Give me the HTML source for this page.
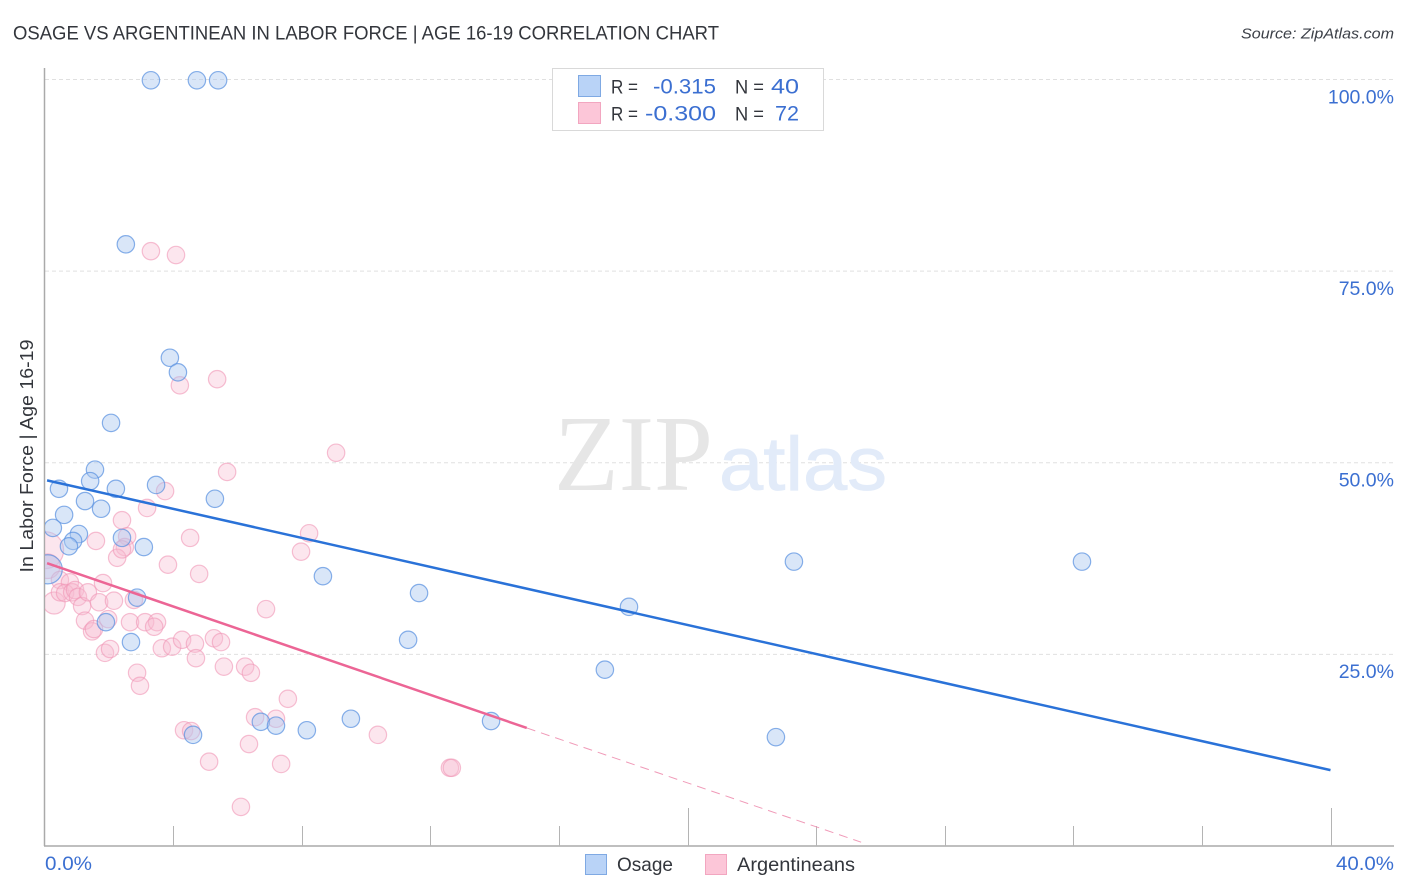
<!DOCTYPE html>
<html lang="en">
<head>
<meta charset="utf-8">
<title>Osage vs Argentinean In Labor Force | Age 16-19 Correlation Chart</title>
<style>
html,body{margin:0;padding:0;background:#fff;width:1406px;height:892px;overflow:hidden}
svg{display:block;font-family:"Liberation Sans",sans-serif}
</style>
</head>
<body>
<svg id="chart" xmlns="http://www.w3.org/2000/svg" width="1406" height="892" viewBox="0 0 1406 892">
<defs><clipPath id="plot-clip"><rect x="45" y="60" width="1350" height="786"/></clipPath></defs>
<text x="13" y="39.5" font-size="19.5" fill="#33363c" textLength="706" lengthAdjust="spacingAndGlyphs">OSAGE VS ARGENTINEAN IN LABOR FORCE | AGE 16-19 CORRELATION CHART</text>
<text x="1241" y="38.5" font-size="15" font-style="italic" fill="#3c4048" textLength="153" lengthAdjust="spacingAndGlyphs">Source: ZipAtlas.com</text>
<g id="grid"></g>
<g>
<text x="554" y="490" font-family="'Liberation Serif',serif" font-size="108" fill="#e6e6e6" textLength="159" lengthAdjust="spacingAndGlyphs">ZIP</text>
<text x="719" y="490" font-size="76" fill="#e2ebf9" stroke="#e2ebf9" stroke-width="0.8" textLength="168" lengthAdjust="spacingAndGlyphs">atlas</text>
</g>
<g id="axes"></g>
<g id="pink-points" clip-path="url(#plot-clip)"></g>
<g id="blue-points" clip-path="url(#plot-clip)"></g>
<g id="trends"></g>
<text transform="translate(33,456) rotate(-90)" font-size="18.5" fill="#33363c" text-anchor="middle" textLength="233" lengthAdjust="spacingAndGlyphs">In Labor Force | Age 16-19</text>
<g id="y-labels"></g>
<text x="45" y="870" font-size="19.5" fill="#3b6fd1" textLength="47" lengthAdjust="spacingAndGlyphs">0.0%</text>
<text x="1336" y="870" font-size="19.5" fill="#3b6fd1" textLength="58" lengthAdjust="spacingAndGlyphs">40.0%</text>
<g>
<rect x="552.5" y="68.5" width="271" height="62" fill="#fff" stroke="#d9d9d9" stroke-width="1"/>
<rect x="578.5" y="75.5" width="22" height="21" fill="#b9d3f7" stroke="#7fa9e3"/>
<rect x="578.5" y="102.5" width="22" height="21" fill="#fcc6d8" stroke="#f2a6c0"/>
<text x="611" y="93.5" font-size="19" fill="#33363c" textLength="27" lengthAdjust="spacingAndGlyphs">R =</text>
<text x="653" y="93.5" font-size="21" fill="#3b6fd1" textLength="63" lengthAdjust="spacingAndGlyphs">-0.315</text>
<text x="735" y="93.5" font-size="19" fill="#33363c" textLength="29" lengthAdjust="spacingAndGlyphs">N =</text>
<text x="771" y="93.5" font-size="21" fill="#3b6fd1" textLength="28" lengthAdjust="spacingAndGlyphs">40</text>
<text x="611" y="120.5" font-size="19" fill="#33363c" textLength="27" lengthAdjust="spacingAndGlyphs">R =</text>
<text x="645" y="120.5" font-size="21" fill="#3b6fd1" textLength="71" lengthAdjust="spacingAndGlyphs">-0.300</text>
<text x="735" y="120.5" font-size="19" fill="#33363c" textLength="29" lengthAdjust="spacingAndGlyphs">N =</text>
<text x="775" y="120.5" font-size="21" fill="#3b6fd1" textLength="24" lengthAdjust="spacingAndGlyphs">72</text>
</g>
<g>
<rect x="585.5" y="854.5" width="21" height="20" fill="#b9d3f7" stroke="#7fa9e3"/>
<text x="617" y="871" font-size="19.5" fill="#33363c" textLength="56" lengthAdjust="spacingAndGlyphs">Osage</text>
<rect x="705.5" y="854.5" width="21" height="20" fill="#fcc6d8" stroke="#f2a6c0"/>
<text x="737" y="871" font-size="19.5" fill="#33363c" textLength="118" lengthAdjust="spacingAndGlyphs">Argentineans</text>
</g>
</svg>
<script>
var yTicks = [100, 75, 50, 25];
var yTickLabels = ["100.0%", "75.0%", "50.0%", "25.0%"];
var xTicks = [0, 4, 8, 12, 16, 20, 24, 28, 32, 36, 40];
var xMajorTicks = [0, 20, 40];

var osageX = [3.31,4.74,5.40,2.53,3.90,4.15,2.07,1.57,1.42,0.45,2.22,3.47,1.26,5.30,1.76,0.61,0.26,1.07,2.41,3.09,0.89,0.76,0.10,2.88,8.66,11.65,18.18,23.31,32.27,11.31,17.43,2.69,1.91,22.75,13.89,9.53,8.16,6.73,7.20,4.62];
var osageY = [99.9,99.9,99.9,78.5,63.7,61.8,55.2,49.1,47.6,46.6,46.6,47.1,45.0,45.3,44.0,43.2,41.5,40.7,40.2,39.0,39.8,39.1,36.1,32.4,35.2,33.0,31.2,37.1,37.1,26.9,23.0,26.6,29.2,14.2,16.3,16.6,15.1,16.2,15.7,14.5];
var osageWeight = [1,1,1,1,1,1,1,1,1,1,1,1,1,1,1,1,1,1,1,1,1,1,2.8,1,1,1,1,1,1,1,1,1,1,1,1,1,1,1,1,1];

var argX = [3.31,4.09,5.37,4.21,9.07,5.68,3.75,3.19,2.41,8.23,7.98,4.53,1.60,2.57,2.50,2.26,3.84,4.81,1.82,6.89,0.30,0.02,0.10,0.48,0.79,0.48,0.64,0.86,0.95,1.04,1.17,1.35,1.70,2.16,1.26,1.48,1.54,1.98,2.66,3.13,3.50,3.41,1.88,2.04,3.65,3.97,4.28,4.68,5.27,5.49,4.71,5.58,6.24,6.42,2.88,2.97,7.57,6.55,7.20,4.34,4.56,10.37,6.36,5.12,7.36,12.61,12.67,6.11,2.78,2.41,0.36,0.73];
var argY = [77.6,77.1,60.9,60.1,51.3,48.8,46.3,44.1,42.5,40.8,38.4,40.2,39.8,40.4,39.0,37.6,36.7,35.5,34.3,30.9,31.7,38.6,36.5,34.7,34.4,33.1,33.0,33.1,33.4,32.5,31.3,33.1,31.8,32.0,29.4,28.0,28.3,29.6,29.2,29.2,29.2,28.6,25.2,25.7,25.8,26.0,26.9,26.4,27.1,26.6,24.5,23.4,23.4,22.6,22.6,20.9,19.2,16.8,16.6,15.1,15.0,14.5,13.3,11.0,10.7,10.2,10.2,5.1,32.1,38.7,35.0,33.1];
var argWeight = [1,1,1,1,1,1,1,1,1,1,1,1,1,1,1,1,1,1,1,1,1.6,4.5,2,1,1,1,1,1,1,1,1,1,1,1,1,1,1,1,1,1,1,1,1,1,1,1,1,1,1,1,1,1,1,1,1,1,1,1,1,1,1,1,1,1,1,1,1,1,1,1];

var osageTrendX = [0.08, 40];
var osageTrendY = [47.7, 9.9];
var argTrendX = [0.08, 15.0];
var argTrendY = [36.9, 15.4];
var argDashX = [15.0, 25.4];
var argDashY = [15.4, 0.5];

var NS = "http://www.w3.org/2000/svg";
function xPos(v) { return 44.5 + v * 32.15; }
function yPos(v) { return 846 - v * 7.665; }
function rad(w) { return 8.7 * Math.sqrt(w); }
function mk(tag, parent, attrs) {
  var el = document.createElementNS(NS, tag);
  for (var k in attrs) el.setAttribute(k, attrs[k]);
  parent.appendChild(el);
  return el;
}

var grid = document.getElementById("grid");
var yLabels = document.getElementById("y-labels");
yTicks.forEach(function (t, i) {
  var g = mk("line", grid, {x1: 45, x2: 1394, y1: yPos(t), y2: yPos(t), stroke: "#e0e0e0", "stroke-width": 1, "stroke-dasharray": "4 3"});
  
  
  var l = mk("text", yLabels, {x: 1394, y: yPos(t) + 23.8, "font-size": 19.5, fill: "#3b6fd1", "text-anchor": "end"});
  l.textContent = yTickLabels[i];
  
  
});

var axes = document.getElementById("axes");
var yAxis = mk("line", axes, {x1: 44.5, x2: 44.5, y1: 68, y2: 846, stroke: "#aaaaaa", "stroke-width": 1.5});


var xAxis = mk("line", axes, {x1: 44, x2: 1394, y1: 846, y2: 846, stroke: "#aaaaaa", "stroke-width": 1.5});


xTicks.forEach(function (t) {
  if (t === 0) return;
  var top = xMajorTicks.indexOf(t) >= 0 ? 808 : 826;
  var tk = mk("line", axes, {x1: Math.round(xPos(t)) + 0.5, x2: Math.round(xPos(t)) + 0.5, y1: top, y2: 846, stroke: "#b4b4b4", "stroke-width": 1});
  
  
});

var pinkLayer = document.getElementById("pink-points");
argX.forEach(function (v, i) {
  var c = mk("circle", pinkLayer, {cx: xPos(v), cy: yPos(argY[i]), r: rad(argWeight[i]), fill: "rgba(248,190,210,0.38)", stroke: "rgba(240,150,182,0.6)", "stroke-width": 1.2});
  
  
});
var blueLayer = document.getElementById("blue-points");
osageX.forEach(function (v, i) {
  var c = mk("circle", blueLayer, {cx: xPos(v), cy: yPos(osageY[i]), r: rad(osageWeight[i]), fill: "rgba(170,200,240,0.45)", stroke: "rgba(90,145,225,0.72)", "stroke-width": 1.2});
  
  
});

var trends = document.getElementById("trends");
var bt = mk("line", trends, {x1: xPos(osageTrendX[0]), y1: yPos(osageTrendY[0]), x2: xPos(osageTrendX[1]), y2: yPos(osageTrendY[1]), stroke: "#2a72d8", "stroke-width": 2.5});


var pt = mk("line", trends, {x1: xPos(argTrendX[0]), y1: yPos(argTrendY[0]), x2: xPos(argTrendX[1]), y2: yPos(argTrendY[1]), stroke: "#ec6595", "stroke-width": 2.5});


var pd = mk("line", trends, {x1: xPos(argDashX[0]), y1: yPos(argDashY[0]), x2: xPos(argDashX[1]), y2: yPos(argDashY[1]), stroke: "#f09ab8", "stroke-width": 1, "stroke-dasharray": "9 6"});


</script>
</body>
</html>
